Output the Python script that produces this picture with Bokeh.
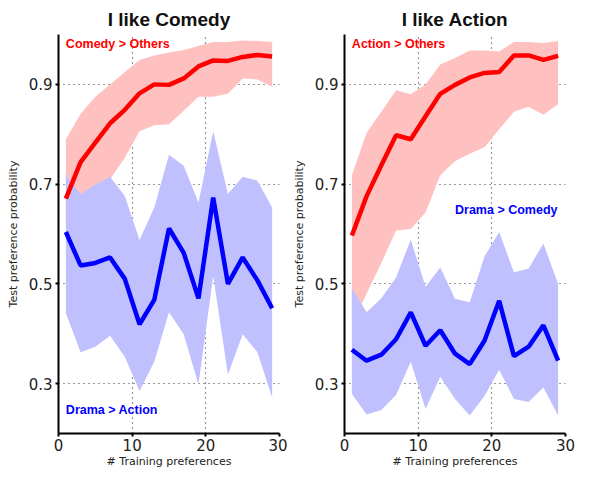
from bokeh.plotting import figure
from bokeh.layouts import row
from bokeh.models import Label, FixedTicker, Range1d
from bokeh.embed import file_html
from bokeh.resources import INLINE

# ---- data ----
x = [1, 3, 5, 7, 9, 11, 13, 15, 17, 19, 21, 23, 25, 27, 29]

comedy_red_mean = [0.671, 0.744, 0.783, 0.822, 0.849, 0.882, 0.900, 0.899, 0.912, 0.936, 0.948, 0.947, 0.955, 0.959, 0.956]
comedy_red_upper = [0.790, 0.841, 0.875, 0.900, 0.925, 0.949, 0.958, 0.964, 0.969, 0.977, 0.985, 0.985, 0.988, 0.987, 0.985]
comedy_red_lower = [0.620, 0.660, 0.690, 0.710, 0.753, 0.806, 0.818, 0.820, 0.847, 0.875, 0.875, 0.881, 0.912, 0.910, 0.895]
comedy_blue_mean = [0.604, 0.537, 0.542, 0.553, 0.510, 0.419, 0.468, 0.611, 0.562, 0.471, 0.673, 0.500, 0.553, 0.507, 0.451]
comedy_blue_upper = [0.718, 0.680, 0.699, 0.715, 0.676, 0.588, 0.653, 0.759, 0.737, 0.663, 0.806, 0.680, 0.715, 0.707, 0.653]
comedy_blue_lower = [0.441, 0.363, 0.374, 0.396, 0.354, 0.285, 0.344, 0.443, 0.399, 0.298, 0.516, 0.318, 0.399, 0.363, 0.272]

action_red_mean = [0.597, 0.676, 0.738, 0.798, 0.790, 0.836, 0.881, 0.899, 0.914, 0.923, 0.925, 0.958, 0.958, 0.949, 0.957]
action_red_upper = [0.718, 0.803, 0.845, 0.888, 0.880, 0.900, 0.940, 0.953, 0.968, 0.968, 0.966, 0.985, 0.985, 0.983, 0.987]
action_red_lower = [0.420, 0.480, 0.542, 0.607, 0.610, 0.643, 0.718, 0.746, 0.761, 0.774, 0.810, 0.845, 0.855, 0.839, 0.860]
action_blue_mean = [0.368, 0.346, 0.358, 0.389, 0.443, 0.376, 0.407, 0.360, 0.339, 0.386, 0.466, 0.355, 0.374, 0.417, 0.346]
action_blue_upper = [0.491, 0.443, 0.471, 0.513, 0.589, 0.494, 0.533, 0.470, 0.463, 0.555, 0.604, 0.523, 0.531, 0.581, 0.500]
action_blue_lower = [0.279, 0.238, 0.247, 0.277, 0.344, 0.249, 0.314, 0.269, 0.236, 0.275, 0.328, 0.269, 0.263, 0.292, 0.236]

x_ticks = [0, 10, 20, 30]
y_ticks = [0.3, 0.5, 0.7, 0.9]

RED = "#ff0000"
BLUE = "#0000ff"
RED_BAND = "#ffc0c0"
BLUE_BAND = "#c0c0ff"
TICK_FONT = "DejaVu Sans"
BOLD_FONT = "Liberation Sans"


def make_panel(title, width, border_left, border_right,
               red_mean, red_lo, red_hi, blue_mean, blue_lo, blue_hi,
               red_label, red_pos, blue_label, blue_pos):
    p = figure(width=width, height=470, output_backend="svg", toolbar_location=None,
               x_range=Range1d(0, 30), y_range=Range1d(0.2, 1.0),
               min_border_left=border_left, min_border_right=border_right,
               min_border_top=34, min_border_bottom=34, title=title)
    p.title.align = "center"
    p.title.text_font = BOLD_FONT
    p.title.text_font_style = "bold"
    p.title.text_font_size = "19px"
    p.title.text_color = "#111111"
    p.outline_line_color = None
    p.background_fill_color = "white"
    p.border_fill_color = "white"

    p.varea(x=x, y1=red_lo, y2=red_hi, fill_color=RED_BAND)
    p.varea(x=x, y1=blue_lo, y2=blue_hi, fill_color=BLUE_BAND)
    p.line(x, red_mean, line_color=RED, line_width=4.5)
    p.line(x, blue_mean, line_color=BLUE, line_width=4.5)

    for ax, ticks in ((p.xaxis[0], x_ticks), (p.yaxis[0], y_ticks)):
        ax.ticker = FixedTicker(ticks=ticks)
        ax.axis_line_width = 2
        ax.axis_line_color = "black"
        ax.major_tick_out = 3
        ax.major_tick_in = 0
        ax.major_tick_line_width = 2
        ax.minor_tick_line_color = None
        ax.major_label_text_font = TICK_FONT
        ax.major_label_text_font_size = "15px"
        ax.major_label_text_color = "#222222"
        ax.major_label_text_line_height = 1.0
        ax.axis_label_text_font = TICK_FONT
        ax.axis_label_text_font_size = "11px"
        ax.axis_label_text_font_style = "normal"
        ax.axis_label_text_color = "#222222"
        ax.axis_label_text_line_height = 1.0
    p.xaxis.axis_label = "# Training preferences"
    p.yaxis.axis_label = "Test preference probability"
    p.xaxis.major_label_standoff = 2
    p.xaxis.axis_label_standoff = 1
    p.yaxis.major_label_standoff = 3
    p.yaxis.axis_label_standoff = 6

    p.xgrid.ticker = FixedTicker(ticks=[10, 20, 30])
    p.ygrid.ticker = FixedTicker(ticks=y_ticks)
    for g in (p.xgrid[0], p.ygrid[0]):
        g.grid_line_color = "#333333"
        g.grid_line_dash = "1 4"
        g.grid_line_width = 1.2

    p.add_layout(Label(x=red_pos[0], y=red_pos[1], text=red_label, text_color=RED,
                       text_font=BOLD_FONT, text_font_style="bold", text_font_size="12.5px",
                       text_baseline="middle", text_align="left"))
    p.add_layout(Label(x=blue_pos[0], y=blue_pos[1], text=blue_label, text_color=BLUE,
                       text_font=BOLD_FONT, text_font_style="bold", text_font_size="12.5px",
                       text_baseline="middle", text_align="left"))
    return p


p1 = make_panel("I like Comedy", 287, 58, 8,
                comedy_red_mean, comedy_red_lower, comedy_red_upper,
                comedy_blue_mean, comedy_blue_lower, comedy_blue_upper,
                "Comedy > Others", (1, 0.98), "Drama > Action", (1, 0.248))
p2 = make_panel("I like Action", 288, 57, 10,
                action_red_mean, action_red_lower, action_red_upper,
                action_blue_mean, action_blue_lower, action_blue_upper,
                "Action > Others", (1, 0.98), "Drama > Comedy", (15, 0.648))

layout = row(p1, p2)
open("out.html", "w").write(file_html(layout, INLINE))
